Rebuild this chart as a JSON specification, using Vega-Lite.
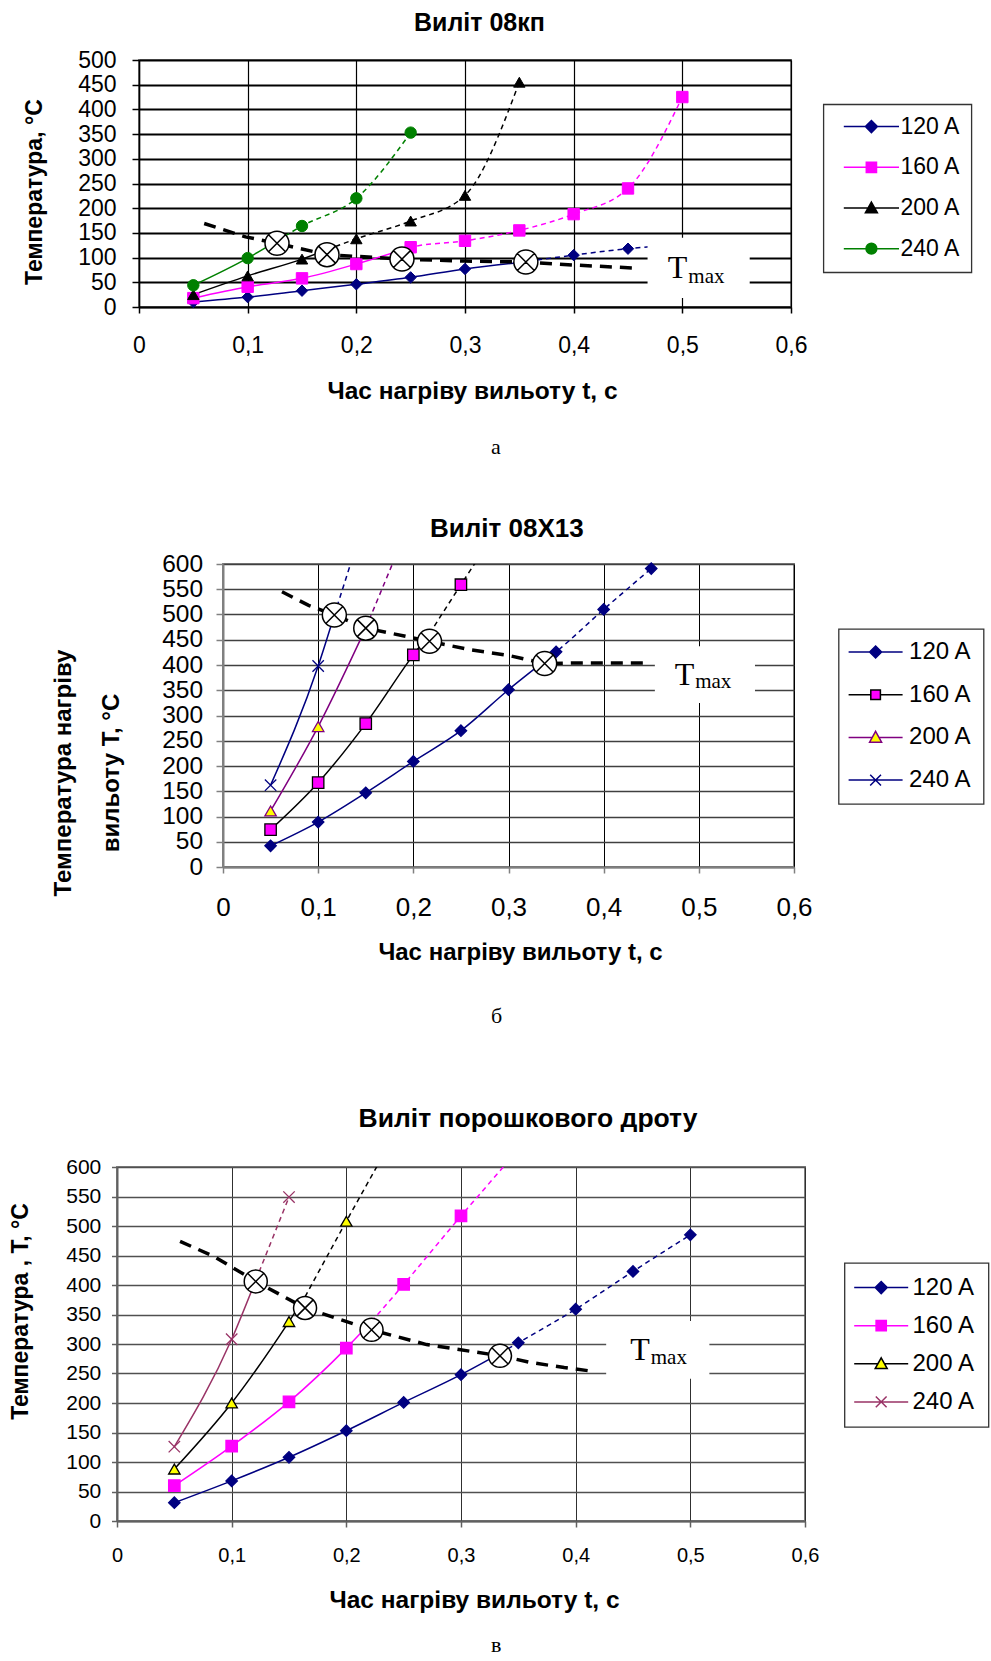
{
"$schema": "https://vega.github.io/schema/vega-lite/v6.json",
"padding": {"left": 0, "top": 10, "right": 0, "bottom": 0},
"config": {
  "font": "Liberation Sans",
  "view": {"stroke": "#808080", "strokeWidth": 2},
  "axis": {"labelColor": "black", "titleColor": "black", "labelFont": "Liberation Sans", "titleFont": "Liberation Sans", "titleFontWeight": "bold", "labelFlush": false, "labelOverlap": false, "gridOpacity": 1},
  "title": {"font": "Liberation Sans", "color": "black"},
  "legend": {"strokeWidth": 1.3, "labelFont": "Liberation Sans", "labelColor": "black"}
},
"datasets": {
"d": [
{"p":"a","k":"pt","s":"120 A","t":0.05,"T":10},{"p":"a","k":"pt","s":"120 A","t":0.1,"T":20},{"p":"a","k":"pt","s":"120 A","t":0.15,"T":33},{"p":"a","k":"pt","s":"120 A","t":0.2,"T":46},{"p":"a","k":"pt","s":"120 A","t":0.25,"T":60},{"p":"a","k":"pt","s":"120 A","t":0.3,"T":77},{"p":"a","k":"pt","s":"120 A","t":0.35,"T":90},{"p":"a","k":"pt","s":"120 A","t":0.4,"T":105},{"p":"a","k":"pt","s":"120 A","t":0.45,"T":118},
{"p":"a","k":"ln","g":"s","s":"120 A","t":0.05,"T":10},{"p":"a","k":"ln","g":"s","s":"120 A","t":0.1,"T":20},{"p":"a","k":"ln","g":"s","s":"120 A","t":0.15,"T":33},{"p":"a","k":"ln","g":"s","s":"120 A","t":0.2,"T":46},{"p":"a","k":"ln","g":"s","s":"120 A","t":0.25,"T":60},{"p":"a","k":"ln","g":"s","s":"120 A","t":0.3,"T":77},{"p":"a","k":"ln","g":"s","s":"120 A","t":0.35,"T":90},
{"p":"a","k":"ln","g":"d","s":"120 A","t":0.35,"T":90},{"p":"a","k":"ln","g":"d","s":"120 A","t":0.4,"T":105},{"p":"a","k":"ln","g":"d","s":"120 A","t":0.45,"T":118},{"p":"a","k":"ln","g":"d","s":"120 A","t":0.47,"T":122},
{"p":"a","k":"pt","s":"160 A","t":0.05,"T":18},{"p":"a","k":"pt","s":"160 A","t":0.1,"T":41},{"p":"a","k":"pt","s":"160 A","t":0.15,"T":58},{"p":"a","k":"pt","s":"160 A","t":0.2,"T":87},{"p":"a","k":"pt","s":"160 A","t":0.25,"T":121},{"p":"a","k":"pt","s":"160 A","t":0.3,"T":134},{"p":"a","k":"pt","s":"160 A","t":0.35,"T":155},{"p":"a","k":"pt","s":"160 A","t":0.4,"T":188},{"p":"a","k":"pt","s":"160 A","t":0.45,"T":240},{"p":"a","k":"pt","s":"160 A","t":0.5,"T":425},
{"p":"a","k":"ln","g":"s","s":"160 A","t":0.05,"T":18},{"p":"a","k":"ln","g":"s","s":"160 A","t":0.1,"T":41},{"p":"a","k":"ln","g":"s","s":"160 A","t":0.15,"T":58},{"p":"a","k":"ln","g":"s","s":"160 A","t":0.2,"T":87},{"p":"a","k":"ln","g":"s","s":"160 A","t":0.24,"T":114},
{"p":"a","k":"ln","g":"d","s":"160 A","t":0.24,"T":114},{"p":"a","k":"ln","g":"d","s":"160 A","t":0.25,"T":121},{"p":"a","k":"ln","g":"d","s":"160 A","t":0.3,"T":134},{"p":"a","k":"ln","g":"d","s":"160 A","t":0.35,"T":155},{"p":"a","k":"ln","g":"d","s":"160 A","t":0.4,"T":188},{"p":"a","k":"ln","g":"d","s":"160 A","t":0.45,"T":240},{"p":"a","k":"ln","g":"d","s":"160 A","t":0.5,"T":425},
{"p":"a","k":"pt","s":"200 A","t":0.05,"T":25},{"p":"a","k":"pt","s":"200 A","t":0.1,"T":63},{"p":"a","k":"pt","s":"200 A","t":0.15,"T":97},{"p":"a","k":"pt","s":"200 A","t":0.2,"T":138},{"p":"a","k":"pt","s":"200 A","t":0.25,"T":174},{"p":"a","k":"pt","s":"200 A","t":0.3,"T":226},{"p":"a","k":"pt","s":"200 A","t":0.35,"T":455},
{"p":"a","k":"ln","g":"s","s":"200 A","t":0.05,"T":25},{"p":"a","k":"ln","g":"s","s":"200 A","t":0.1,"T":63},{"p":"a","k":"ln","g":"s","s":"200 A","t":0.15,"T":97},{"p":"a","k":"ln","g":"s","s":"200 A","t":0.173,"T":116},
{"p":"a","k":"ln","g":"d","s":"200 A","t":0.173,"T":116},{"p":"a","k":"ln","g":"d","s":"200 A","t":0.2,"T":138},{"p":"a","k":"ln","g":"d","s":"200 A","t":0.25,"T":174},{"p":"a","k":"ln","g":"d","s":"200 A","t":0.3,"T":226},{"p":"a","k":"ln","g":"d","s":"200 A","t":0.35,"T":455},
{"p":"a","k":"pt","s":"240 A","t":0.05,"T":44},{"p":"a","k":"pt","s":"240 A","t":0.1,"T":99},{"p":"a","k":"pt","s":"240 A","t":0.15,"T":164},{"p":"a","k":"pt","s":"240 A","t":0.2,"T":220},{"p":"a","k":"pt","s":"240 A","t":0.25,"T":353},
{"p":"a","k":"ln","g":"s","s":"240 A","t":0.05,"T":44},{"p":"a","k":"ln","g":"s","s":"240 A","t":0.1,"T":99},{"p":"a","k":"ln","g":"s","s":"240 A","t":0.127,"T":134},
{"p":"a","k":"ln","g":"d","s":"240 A","t":0.127,"T":134},{"p":"a","k":"ln","g":"d","s":"240 A","t":0.15,"T":164},{"p":"a","k":"ln","g":"d","s":"240 A","t":0.2,"T":220},{"p":"a","k":"ln","g":"d","s":"240 A","t":0.25,"T":353},
{"p":"a","k":"tm","t":0.06,"T":169},{"p":"a","k":"tm","t":0.098,"T":142},{"p":"a","k":"tm","t":0.127,"T":129},{"p":"a","k":"tm","t":0.173,"T":106},{"p":"a","k":"tm","t":0.242,"T":97},{"p":"a","k":"tm","t":0.3,"T":93},{"p":"a","k":"tm","t":0.356,"T":91},{"p":"a","k":"tm","t":0.4,"T":85},{"p":"a","k":"tm","t":0.455,"T":79},
{"p":"a","k":"cx","t":0.127,"T":129},{"p":"a","k":"cx","t":0.173,"T":106},{"p":"a","k":"cx","t":0.242,"T":97},{"p":"a","k":"cx","t":0.356,"T":91},
{"p":"a","k":"box","t":0.468,"t2":0.562,"T":140,"T2":18},
{"p":"a","k":"lbl","txt":"T","t":0.4866,"T":57.8},{"p":"a","k":"lbl","txt":"max","t":0.5055,"T":48.7},

{"p":"b","k":"pt","s":"120 A","t":0.05,"T":42},{"p":"b","k":"pt","s":"120 A","t":0.1,"T":89},{"p":"b","k":"pt","s":"120 A","t":0.15,"T":147},{"p":"b","k":"pt","s":"120 A","t":0.2,"T":209},{"p":"b","k":"pt","s":"120 A","t":0.25,"T":270},{"p":"b","k":"pt","s":"120 A","t":0.3,"T":351},{"p":"b","k":"pt","s":"120 A","t":0.35,"T":426},{"p":"b","k":"pt","s":"120 A","t":0.4,"T":510},{"p":"b","k":"pt","s":"120 A","t":0.45,"T":591},
{"p":"b","k":"ln","g":"s","s":"120 A","t":0.05,"T":42},{"p":"b","k":"ln","g":"s","s":"120 A","t":0.1,"T":89},{"p":"b","k":"ln","g":"s","s":"120 A","t":0.15,"T":147},{"p":"b","k":"ln","g":"s","s":"120 A","t":0.2,"T":209},{"p":"b","k":"ln","g":"s","s":"120 A","t":0.25,"T":270},{"p":"b","k":"ln","g":"s","s":"120 A","t":0.3,"T":351},{"p":"b","k":"ln","g":"s","s":"120 A","t":0.338,"T":408},
{"p":"b","k":"ln","g":"d","s":"120 A","t":0.338,"T":408},{"p":"b","k":"ln","g":"d","s":"120 A","t":0.35,"T":426},{"p":"b","k":"ln","g":"d","s":"120 A","t":0.4,"T":510},{"p":"b","k":"ln","g":"d","s":"120 A","t":0.45,"T":591},
{"p":"b","k":"pt","s":"160 A","t":0.05,"T":74},{"p":"b","k":"pt","s":"160 A","t":0.1,"T":167},{"p":"b","k":"pt","s":"160 A","t":0.15,"T":284},{"p":"b","k":"pt","s":"160 A","t":0.2,"T":420},{"p":"b","k":"pt","s":"160 A","t":0.25,"T":559},
{"p":"b","k":"ln","g":"s","s":"160 A","t":0.05,"T":74},{"p":"b","k":"ln","g":"s","s":"160 A","t":0.1,"T":167},{"p":"b","k":"ln","g":"s","s":"160 A","t":0.15,"T":284},{"p":"b","k":"ln","g":"s","s":"160 A","t":0.2,"T":420},{"p":"b","k":"ln","g":"s","s":"160 A","t":0.217,"T":462},
{"p":"b","k":"ln","g":"d","s":"160 A","t":0.217,"T":462},{"p":"b","k":"ln","g":"d","s":"160 A","t":0.25,"T":559},{"p":"b","k":"ln","g":"d","s":"160 A","t":0.266,"T":605},
{"p":"b","k":"pt","s":"200 A","t":0.05,"T":111},{"p":"b","k":"pt","s":"200 A","t":0.1,"T":278},
{"p":"b","k":"ln","g":"s","s":"200 A","t":0.05,"T":111},{"p":"b","k":"ln","g":"s","s":"200 A","t":0.1,"T":278},{"p":"b","k":"ln","g":"s","s":"200 A","t":0.15,"T":473},
{"p":"b","k":"ln","g":"d","s":"200 A","t":0.15,"T":473},{"p":"b","k":"ln","g":"d","s":"200 A","t":0.178,"T":600},
{"p":"b","k":"pt","s":"240 A","t":0.05,"T":162},{"p":"b","k":"pt","s":"240 A","t":0.1,"T":398},
{"p":"b","k":"ln","g":"s","s":"240 A","t":0.05,"T":162},{"p":"b","k":"ln","g":"s","s":"240 A","t":0.1,"T":398},{"p":"b","k":"ln","g":"s","s":"240 A","t":0.117,"T":499},
{"p":"b","k":"ln","g":"d","s":"240 A","t":0.117,"T":499},{"p":"b","k":"ln","g":"d","s":"240 A","t":0.134,"T":600},
{"p":"b","k":"tm","t":0.062,"T":545},{"p":"b","k":"tm","t":0.09,"T":518},{"p":"b","k":"tm","t":0.117,"T":499},{"p":"b","k":"tm","t":0.15,"T":473},{"p":"b","k":"tm","t":0.217,"T":447},{"p":"b","k":"tm","t":0.26,"T":430},{"p":"b","k":"tm","t":0.3,"T":419},{"p":"b","k":"tm","t":0.338,"T":403},{"p":"b","k":"tm","t":0.37,"T":404},{"p":"b","k":"tm","t":0.447,"T":404},
{"p":"b","k":"cx","t":0.117,"T":499},{"p":"b","k":"cx","t":0.15,"T":473},{"p":"b","k":"cx","t":0.217,"T":447},{"p":"b","k":"cx","t":0.338,"T":403},
{"p":"b","k":"box","t":0.4538,"t2":0.559,"T":437,"T2":325},
{"p":"b","k":"lbl","txt":"T","t":0.4748,"T":361},{"p":"b","k":"lbl","txt":"max","t":0.4962,"T":354.5},

{"p":"c","k":"pt","s":"120 A","t":0.05,"T":31},{"p":"c","k":"pt","s":"120 A","t":0.1,"T":68},{"p":"c","k":"pt","s":"120 A","t":0.15,"T":108},{"p":"c","k":"pt","s":"120 A","t":0.2,"T":153},{"p":"c","k":"pt","s":"120 A","t":0.25,"T":201},{"p":"c","k":"pt","s":"120 A","t":0.3,"T":248},{"p":"c","k":"pt","s":"120 A","t":0.35,"T":302},{"p":"c","k":"pt","s":"120 A","t":0.4,"T":359},{"p":"c","k":"pt","s":"120 A","t":0.45,"T":423},{"p":"c","k":"pt","s":"120 A","t":0.5,"T":485},
{"p":"c","k":"ln","g":"s","s":"120 A","t":0.05,"T":31},{"p":"c","k":"ln","g":"s","s":"120 A","t":0.1,"T":68},{"p":"c","k":"ln","g":"s","s":"120 A","t":0.15,"T":108},{"p":"c","k":"ln","g":"s","s":"120 A","t":0.2,"T":153},{"p":"c","k":"ln","g":"s","s":"120 A","t":0.25,"T":201},{"p":"c","k":"ln","g":"s","s":"120 A","t":0.3,"T":248},{"p":"c","k":"ln","g":"s","s":"120 A","t":0.334,"T":284},
{"p":"c","k":"ln","g":"d","s":"120 A","t":0.334,"T":284},{"p":"c","k":"ln","g":"d","s":"120 A","t":0.35,"T":302},{"p":"c","k":"ln","g":"d","s":"120 A","t":0.4,"T":359},{"p":"c","k":"ln","g":"d","s":"120 A","t":0.45,"T":423},{"p":"c","k":"ln","g":"d","s":"120 A","t":0.5,"T":485},
{"p":"c","k":"pt","s":"160 A","t":0.05,"T":60},{"p":"c","k":"pt","s":"160 A","t":0.1,"T":127},{"p":"c","k":"pt","s":"160 A","t":0.15,"T":202},{"p":"c","k":"pt","s":"160 A","t":0.2,"T":293},{"p":"c","k":"pt","s":"160 A","t":0.25,"T":401},{"p":"c","k":"pt","s":"160 A","t":0.3,"T":517},
{"p":"c","k":"ln","g":"s","s":"160 A","t":0.05,"T":60},{"p":"c","k":"ln","g":"s","s":"160 A","t":0.1,"T":127},{"p":"c","k":"ln","g":"s","s":"160 A","t":0.15,"T":202},{"p":"c","k":"ln","g":"s","s":"160 A","t":0.2,"T":293},{"p":"c","k":"ln","g":"s","s":"160 A","t":0.222,"T":338},
{"p":"c","k":"ln","g":"d","s":"160 A","t":0.222,"T":338},{"p":"c","k":"ln","g":"d","s":"160 A","t":0.25,"T":401},{"p":"c","k":"ln","g":"d","s":"160 A","t":0.3,"T":517},{"p":"c","k":"ln","g":"d","s":"160 A","t":0.341,"T":609},
{"p":"c","k":"pt","s":"200 A","t":0.05,"T":88},{"p":"c","k":"pt","s":"200 A","t":0.1,"T":200},{"p":"c","k":"pt","s":"200 A","t":0.15,"T":338},{"p":"c","k":"pt","s":"200 A","t":0.2,"T":508},
{"p":"c","k":"ln","g":"s","s":"200 A","t":0.05,"T":88},{"p":"c","k":"ln","g":"s","s":"200 A","t":0.1,"T":200},{"p":"c","k":"ln","g":"s","s":"200 A","t":0.15,"T":338},{"p":"c","k":"ln","g":"s","s":"200 A","t":0.164,"T":380},
{"p":"c","k":"ln","g":"d","s":"200 A","t":0.164,"T":380},{"p":"c","k":"ln","g":"d","s":"200 A","t":0.2,"T":508},{"p":"c","k":"ln","g":"d","s":"200 A","t":0.227,"T":602},
{"p":"c","k":"pt","s":"240 A","t":0.05,"T":126},{"p":"c","k":"pt","s":"240 A","t":0.1,"T":308},{"p":"c","k":"pt","s":"240 A","t":0.15,"T":549},
{"p":"c","k":"ln","g":"s","s":"240 A","t":0.05,"T":126},{"p":"c","k":"ln","g":"s","s":"240 A","t":0.1,"T":308},{"p":"c","k":"ln","g":"s","s":"240 A","t":0.121,"T":408},
{"p":"c","k":"ln","g":"d","s":"240 A","t":0.121,"T":408},{"p":"c","k":"ln","g":"d","s":"240 A","t":0.15,"T":549},
{"p":"c","k":"tm","t":0.055,"T":474},{"p":"c","k":"tm","t":0.085,"T":448},{"p":"c","k":"tm","t":0.121,"T":406},{"p":"c","k":"tm","t":0.164,"T":361},{"p":"c","k":"tm","t":0.222,"T":324},{"p":"c","k":"tm","t":0.27,"T":299},{"p":"c","k":"tm","t":0.334,"T":280},{"p":"c","k":"tm","t":0.36,"T":269},{"p":"c","k":"tm","t":0.39,"T":260},{"p":"c","k":"tm","t":0.414,"T":254},
{"p":"c","k":"cx","t":0.121,"T":406},{"p":"c","k":"cx","t":0.164,"T":361},{"p":"c","k":"cx","t":0.222,"T":324},{"p":"c","k":"cx","t":0.334,"T":280},
{"p":"c","k":"box","t":0.4266,"t2":0.5166,"T":339,"T2":241},
{"p":"c","k":"lbl","txt":"T","t":0.4475,"T":272.9},{"p":"c","k":"lbl","txt":"max","t":0.4655,"T":266}
]
},
"vconcat": [
{
  "hconcat": [
    {"width": 21, "height": 1, "view": {"stroke": null}, "data": {"values": []}, "mark": {"type": "point", "opacity": 0}},
    {
      "width": 652, "height": 247,
      "title": {"text": "Виліт 08кп", "anchor": "start", "frame": "group", "dx": 275, "offset": 13, "fontSize": 25, "fontWeight": "bold"},
      "data": {"name": "d"},
      "transform": [{"filter": "datum.p == 'a'"}],
      "encoding": {
        "x": {"field": "t", "type": "quantitative", "scale": {"domain": [0, 0.6], "nice": false, "zero": false},
          "axis": {"values": [0, 0.1, 0.2, 0.3, 0.4, 0.5, 0.6], "labelExpr": "datum.value == 0 ? '0' : replace(format(datum.value, '.1f'), '.', ',')", "title": "Час нагріву вильоту  t, с", "titleFontSize": 24.5, "titleBaseline": "alphabetic", "titleX": 333, "titleY": 91, "labelFontSize": 23, "labelPadding": 21, "tickSize": 6, "tickWidth": 1.5, "tickColor": "black", "domainColor": "black", "domainWidth": 1.5, "grid": true, "gridColor": "black", "gridWidth": 1.2}},
        "y": {"field": "T", "type": "quantitative", "scale": {"domain": [0, 500], "nice": false},
          "axis": {"values": [0, 50, 100, 150, 200, 250, 300, 350, 400, 450, 500], "format": "d", "title": "Температура, °C", "titleFontSize": 23, "titleAngle": 270, "titleBaseline": "alphabetic", "titleAlign": "center", "titleX": -98, "titleY": 131.6, "labelFontSize": 23, "labelPadding": 16, "tickSize": 7, "tickWidth": 1.5, "tickColor": "black", "domainColor": "black", "domainWidth": 1.5, "grid": true, "gridColor": "black", "gridWidth": 2.2}}
      },
      "layer": [
        {"transform": [{"filter": "datum.k == 'ln' && datum.g == 's'"}], "mark": {"type": "line", "interpolate": "monotone", "strokeWidth": 1.5, "clip": true},
         "encoding": {"stroke": {"field": "s", "type": "nominal", "scale": {"domain": ["120 A", "160 A", "200 A", "240 A"], "range": ["#000080", "#FF00FF", "#000000", "#008000"]}, "legend": null}}},
        {"transform": [{"filter": "datum.k == 'ln' && datum.g == 'd'"}], "mark": {"type": "line", "interpolate": "monotone", "strokeWidth": 1.5, "strokeDash": [5, 4], "clip": true},
         "encoding": {"stroke": {"field": "s", "type": "nominal", "scale": {"domain": ["120 A", "160 A", "200 A", "240 A"], "range": ["#000080", "#FF00FF", "#000000", "#008000"]}, "legend": null}}},
        {"transform": [{"filter": "datum.k == 'pt'"}], "mark": {"type": "point", "filled": true, "opacity": 1, "size": 130, "strokeWidth": 1},
         "encoding": {
           "stroke": {"field": "s", "type": "nominal", "scale": {"domain": ["120 A", "160 A", "200 A", "240 A"], "range": ["#000080", "#FF00FF", "#000000", "#008000"]}, "legend": null},
           "fill": {"field": "s", "type": "nominal", "scale": {"domain": ["120 A", "160 A", "200 A", "240 A"], "range": ["#000080", "#FF00FF", "#000000", "#008000"]}, "legend": null},
           "shape": {"field": "s", "type": "nominal", "scale": {"domain": ["120 A", "160 A", "200 A", "240 A"], "range": ["diamond", "square", "triangle-up", "circle"]}, "legend": null}}},
        {"transform": [{"filter": "datum.k == 'tm'"}], "mark": {"type": "line", "color": "black", "strokeWidth": 3.5, "strokeDash": [12, 8]}, "encoding": {}},
        {"transform": [{"filter": "datum.k == 'cx'"}], "mark": {"type": "point", "shape": "M-1,0A1,1,0,1,1,1,0A1,1,0,1,1,-1,0ZM-0.7071,-0.7071L0.7071,0.7071M-0.7071,0.7071L0.7071,-0.7071", "size": 576, "filled": true, "fill": "white", "stroke": "black", "strokeWidth": 1.5, "opacity": 1}},
        {"transform": [{"filter": "datum.k == 'box'"}], "mark": {"type": "rect", "fill": "white"}, "encoding": {"x2": {"field": "t2"}, "y2": {"field": "T2"}}},
        {"transform": [{"filter": "datum.k == 'lbl' && datum.txt == 'T'"}], "mark": {"type": "text", "font": "Liberation Serif", "fontSize": 32, "align": "left", "baseline": "alphabetic", "color": "black"}, "encoding": {"text": {"field": "txt"}}},
        {"transform": [{"filter": "datum.k == 'lbl' && datum.txt == 'max'"}], "mark": {"type": "text", "font": "Liberation Serif", "fontSize": 21, "align": "left", "baseline": "alphabetic", "color": "black"}, "encoding": {"text": {"field": "txt"}}},
        {"transform": [{"filter": "false"}], "mark": {"type": "point", "filled": true, "opacity": 1, "size": 144, "strokeWidth": 1.5},
         "encoding": {
           "stroke": {"field": "s", "type": "nominal", "scale": {"domain": ["120 A", "160 A", "200 A", "240 A"], "range": ["#000080", "#FF00FF", "#000000", "#008000"]},
             "legend": {"title": null, "orient": "none", "legendX": 684.4, "legendY": 44.3, "direction": "vertical", "padding": 10.8, "labelFontSize": 23, "labelOffset": 17.5, "symbolOffset": 25.7, "rowPadding": 16.7, "symbolSize": 144, "symbolStrokeWidth": 1.5, "strokeColor": "#333333", "fillColor": "white", "labelLimit": 300}},
           "fill": {"field": "s", "type": "nominal", "scale": {"domain": ["120 A", "160 A", "200 A", "240 A"], "range": ["#000080", "#FF00FF", "#000000", "#008000"]},
             "legend": {"title": null, "orient": "none", "legendX": 684.4, "legendY": 44.3, "direction": "vertical", "padding": 10.8, "labelFontSize": 23, "labelOffset": 17.5, "symbolOffset": 25.7, "rowPadding": 16.7, "symbolSize": 144, "symbolStrokeWidth": 1.5, "strokeColor": "#333333", "fillColor": "white", "labelLimit": 300}},
           "shape": {"field": "s", "type": "nominal", "scale": {"domain": ["120 A", "160 A", "200 A", "240 A"], "range": ["M-4.6,0H-1M1,0H4.6M0,-1L1,0L0,1L-1,0Z", "M-4.6,0H-0.85M0.85,0H4.6M-0.85,-0.85H0.85V0.85H-0.85Z", "M-4.6,0H-0.55M0.55,0H4.6M0,-1L1,0.8L-1,0.8Z", "M-4.6,0H-0.9M0.9,0H4.6M-0.9,0A0.9,0.9,0,1,1,0.9,0A0.9,0.9,0,1,1,-0.9,0Z"]},
             "legend": {"title": null, "orient": "none", "legendX": 684.4, "legendY": 44.3, "direction": "vertical", "padding": 10.8, "labelFontSize": 23, "labelOffset": 17.5, "symbolOffset": 25.7, "rowPadding": 16.7, "symbolSize": 144, "symbolStrokeWidth": 1.5, "strokeColor": "#333333", "fillColor": "white", "labelLimit": 300}}}}
      ],
      "resolve": {"scale": {"stroke": "independent", "fill": "independent", "shape": "independent"}}
    }
  ],
  "spacing": 0,
  "title": {"text": "а", "orient": "bottom", "anchor": "start", "frame": "bounds", "dx": 491, "offset": 33, "font": "Liberation Serif", "fontSize": 22, "fontWeight": "normal"}
},
{"width": 1, "height": 56, "view": {"stroke": null}, "data": {"values": []}, "mark": {"type": "point", "opacity": 0}},
{
  "hconcat": [
    {"width": 50, "height": 1, "view": {"stroke": null}, "data": {"values": []}, "mark": {"type": "point", "opacity": 0}},
    {
      "width": 571, "height": 303,
      "title": {"text": "Виліт 08Х13", "anchor": "start", "frame": "group", "dx": 207, "offset": 9.5, "fontSize": 26, "fontWeight": "bold"},
      "data": {"name": "d"},
      "transform": [{"filter": "datum.p == 'b'"}],
      "encoding": {
        "x": {"field": "t", "type": "quantitative", "scale": {"domain": [0, 0.6], "nice": false, "zero": false},
          "axis": {"values": [0, 0.1, 0.2, 0.3, 0.4, 0.5, 0.6], "labelExpr": "datum.value == 0 ? '0' : replace(format(datum.value, '.1f'), '.', ',')", "title": "Час нагріву вильоту t, с", "titleFontSize": 24, "titleBaseline": "alphabetic", "titleX": 297, "titleY": 92, "labelFontSize": 26, "labelPadding": 21, "tickSize": 6, "tickWidth": 1.5, "tickColor": "#808080", "domainColor": "#808080", "domainWidth": 2, "grid": true, "gridColor": "black", "gridWidth": 1}},
        "y": {"field": "T", "type": "quantitative", "scale": {"domain": [0, 600], "nice": false},
          "axis": {"values": [0, 50, 100, 150, 200, 250, 300, 350, 400, 450, 500, 550, 600], "format": "d", "title": ["Температура нагріву", "вильоту Т, °С"], "titleFontSize": 24, "titleLineHeight": 48.5, "titleAngle": 270, "titleBaseline": "alphabetic", "titleAlign": "center", "titleX": -152.9, "titleY": 208.5, "labelFontSize": 24.5, "labelPadding": 13.4, "tickSize": 7, "tickWidth": 1.5, "tickColor": "#808080", "domainColor": "#808080", "domainWidth": 2, "grid": true, "gridColor": "#404040", "gridWidth": 1.3}}
      },
      "layer": [
        {"transform": [{"filter": "datum.k == 'ln' && datum.g == 's'"}], "mark": {"type": "line", "interpolate": "monotone", "strokeWidth": 1.5, "clip": true},
         "encoding": {"stroke": {"field": "s", "type": "nominal", "scale": {"domain": ["120 A", "160 A", "200 A", "240 A"], "range": ["#000080", "#000000", "#800080", "#000080"]}, "legend": null}}},
        {"transform": [{"filter": "datum.k == 'ln' && datum.g == 'd'"}], "mark": {"type": "line", "interpolate": "monotone", "strokeWidth": 1.5, "strokeDash": [5, 4], "clip": true},
         "encoding": {"stroke": {"field": "s", "type": "nominal", "scale": {"domain": ["120 A", "160 A", "200 A", "240 A"], "range": ["#000080", "#000000", "#800080", "#000080"]}, "legend": null}}},
        {"transform": [{"filter": "datum.k == 'pt'"}], "mark": {"type": "point", "filled": true, "opacity": 1, "size": 130, "strokeWidth": 1.3},
         "encoding": {
           "stroke": {"field": "s", "type": "nominal", "scale": {"domain": ["120 A", "160 A", "200 A", "240 A"], "range": ["#000080", "#000000", "#800080", "#000080"]}, "legend": null},
           "fill": {"field": "s", "type": "nominal", "scale": {"domain": ["120 A", "160 A", "200 A", "240 A"], "range": ["#000080", "#FF00FF", "#FFFF00", "#000080"]}, "legend": null},
           "shape": {"field": "s", "type": "nominal", "scale": {"domain": ["120 A", "160 A", "200 A", "240 A"], "range": ["diamond", "square", "triangle-up", "M-1,-1L1,1M-1,1L1,-1"]}, "legend": null}}},
        {"transform": [{"filter": "datum.k == 'tm'"}], "mark": {"type": "line", "color": "black", "strokeWidth": 3.5, "strokeDash": [12, 8]}, "encoding": {}},
        {"transform": [{"filter": "datum.k == 'cx'"}], "mark": {"type": "point", "shape": "M-1,0A1,1,0,1,1,1,0A1,1,0,1,1,-1,0ZM-0.7071,-0.7071L0.7071,0.7071M-0.7071,0.7071L0.7071,-0.7071", "size": 576, "filled": true, "fill": "white", "stroke": "black", "strokeWidth": 1.5, "opacity": 1}},
        {"transform": [{"filter": "datum.k == 'box'"}], "mark": {"type": "rect", "fill": "white"}, "encoding": {"x2": {"field": "t2"}, "y2": {"field": "T2"}}},
        {"transform": [{"filter": "datum.k == 'lbl' && datum.txt == 'T'"}], "mark": {"type": "text", "font": "Liberation Serif", "fontSize": 32, "align": "left", "baseline": "alphabetic", "color": "black"}, "encoding": {"text": {"field": "txt"}}},
        {"transform": [{"filter": "datum.k == 'lbl' && datum.txt == 'max'"}], "mark": {"type": "text", "font": "Liberation Serif", "fontSize": 21, "align": "left", "baseline": "alphabetic", "color": "black"}, "encoding": {"text": {"field": "txt"}}},
        {"transform": [{"filter": "false"}], "mark": {"type": "point", "filled": true, "opacity": 1, "size": 144, "strokeWidth": 1.5},
         "encoding": {
           "stroke": {"field": "s", "type": "nominal", "scale": {"domain": ["120 A", "160 A", "200 A", "240 A"], "range": ["#000080", "#000000", "#800080", "#000080"]},
             "legend": {"title": null, "orient": "none", "legendX": 615.6, "legendY": 65, "direction": "vertical", "padding": 11, "labelFontSize": 24, "labelOffset": 21.5, "symbolOffset": 14, "rowPadding": 18.7, "symbolSize": 144, "symbolStrokeWidth": 1.5, "strokeColor": "#333333", "fillColor": "white", "labelLimit": 300}},
           "fill": {"field": "s", "type": "nominal", "scale": {"domain": ["120 A", "160 A", "200 A", "240 A"], "range": ["#000080", "#FF00FF", "#FFFF00", "#000080"]},
             "legend": {"title": null, "orient": "none", "legendX": 615.6, "legendY": 65, "direction": "vertical", "padding": 11, "labelFontSize": 24, "labelOffset": 21.5, "symbolOffset": 14, "rowPadding": 18.7, "symbolSize": 144, "symbolStrokeWidth": 1.5, "strokeColor": "#333333", "fillColor": "white", "labelLimit": 300}},
           "shape": {"field": "s", "type": "nominal", "scale": {"domain": ["120 A", "160 A", "200 A", "240 A"], "range": ["M-4.5,0H-1M1,0H4.5M0,-1L1,0L0,1L-1,0Z", "M-4.5,0H-0.8M0.8,0H4.5M-0.8,-0.8H0.8V0.8H-0.8Z", "M-4.5,0H-0.55M0.55,0H4.5M0,-1L1,0.8L-1,0.8Z", "M-4.5,0H4.5M-0.9,-0.9L0.9,0.9M-0.9,0.9L0.9,-0.9"]},
             "legend": {"title": null, "orient": "none", "legendX": 615.6, "legendY": 65, "direction": "vertical", "padding": 11, "labelFontSize": 24, "labelOffset": 21.5, "symbolOffset": 14, "rowPadding": 18.7, "symbolSize": 144, "symbolStrokeWidth": 1.5, "strokeColor": "#333333", "fillColor": "white", "labelLimit": 300}}}}
      ],
      "resolve": {"scale": {"stroke": "independent", "fill": "independent", "shape": "independent"}}
    }
  ],
  "spacing": 0,
  "title": {"text": "б", "orient": "bottom", "anchor": "start", "frame": "bounds", "dx": 491, "offset": 41, "font": "Liberation Serif", "fontSize": 22, "fontWeight": "normal"}
},
{"width": 1, "height": 77, "view": {"stroke": null}, "data": {"values": []}, "mark": {"type": "point", "opacity": 0}},
{
  "hconcat": [
    {"width": 8, "height": 1, "view": {"stroke": null}, "data": {"values": []}, "mark": {"type": "point", "opacity": 0}},
    {
      "width": 688, "height": 354,
      "title": {"text": "Виліт порошкового дроту", "anchor": "start", "frame": "group", "dx": 241.5, "offset": 24, "fontSize": 26.5, "fontWeight": "bold"},
      "data": {"name": "d"},
      "transform": [{"filter": "datum.p == 'c'"}],
      "encoding": {
        "x": {"field": "t", "type": "quantitative", "scale": {"domain": [0, 0.6], "nice": false, "zero": false},
          "axis": {"values": [0, 0.1, 0.2, 0.3, 0.4, 0.5, 0.6], "labelExpr": "datum.value == 0 ? '0' : replace(format(datum.value, '.1f'), '.', ',')", "title": "Час нагріву вильоту  t, с", "titleFontSize": 24.5, "titleBaseline": "alphabetic", "titleX": 357, "titleY": 86, "labelFontSize": 20, "labelPadding": 18, "tickSize": 6, "tickWidth": 1.5, "tickColor": "#606060", "domainColor": "#606060", "domainWidth": 2, "grid": true, "gridColor": "#303030", "gridWidth": 1}},
        "y": {"field": "T", "type": "quantitative", "scale": {"domain": [0, 600], "nice": false},
          "axis": {"values": [0, 50, 100, 150, 200, 250, 300, 350, 400, 450, 500, 550, 600], "format": "d", "title": "Температура , Т, °С", "titleFontSize": 23, "titleAngle": 270, "titleBaseline": "alphabetic", "titleAlign": "center", "titleX": -90, "titleY": 144, "labelFontSize": 21, "labelPadding": 10.7, "tickSize": 5.5, "tickWidth": 1.5, "tickColor": "#606060", "domainColor": "#606060", "domainWidth": 2, "grid": true, "gridColor": "#505050", "gridWidth": 1.3}}
      },
      "layer": [
        {"transform": [{"filter": "datum.k == 'ln' && datum.g == 's'"}], "mark": {"type": "line", "interpolate": "monotone", "strokeWidth": 1.5, "clip": true},
         "encoding": {"stroke": {"field": "s", "type": "nominal", "scale": {"domain": ["120 A", "160 A", "200 A", "240 A"], "range": ["#000080", "#FF00FF", "#000000", "#993366"]}, "legend": null}}},
        {"transform": [{"filter": "datum.k == 'ln' && datum.g == 'd'"}], "mark": {"type": "line", "interpolate": "monotone", "strokeWidth": 1.5, "strokeDash": [5, 4], "clip": true},
         "encoding": {"stroke": {"field": "s", "type": "nominal", "scale": {"domain": ["120 A", "160 A", "200 A", "240 A"], "range": ["#000080", "#FF00FF", "#000000", "#993366"]}, "legend": null}}},
        {"transform": [{"filter": "datum.k == 'pt'"}], "mark": {"type": "point", "filled": true, "opacity": 1, "size": 130, "strokeWidth": 1.3},
         "encoding": {
           "stroke": {"field": "s", "type": "nominal", "scale": {"domain": ["120 A", "160 A", "200 A", "240 A"], "range": ["#000080", "#FF00FF", "#000000", "#993366"]}, "legend": null},
           "fill": {"field": "s", "type": "nominal", "scale": {"domain": ["120 A", "160 A", "200 A", "240 A"], "range": ["#000080", "#FF00FF", "#FFFF00", "#993366"]}, "legend": null},
           "shape": {"field": "s", "type": "nominal", "scale": {"domain": ["120 A", "160 A", "200 A", "240 A"], "range": ["diamond", "square", "triangle-up", "M-1,-1L1,1M-1,1L1,-1"]}, "legend": null}}},
        {"transform": [{"filter": "datum.k == 'tm'"}], "mark": {"type": "line", "color": "black", "strokeWidth": 3.5, "strokeDash": [12, 8]}, "encoding": {}},
        {"transform": [{"filter": "datum.k == 'cx'"}], "mark": {"type": "point", "shape": "M-1,0A1,1,0,1,1,1,0A1,1,0,1,1,-1,0ZM-0.7071,-0.7071L0.7071,0.7071M-0.7071,0.7071L0.7071,-0.7071", "size": 529, "filled": true, "fill": "white", "stroke": "black", "strokeWidth": 1.5, "opacity": 1}},
        {"transform": [{"filter": "datum.k == 'box'"}], "mark": {"type": "rect", "fill": "white"}, "encoding": {"x2": {"field": "t2"}, "y2": {"field": "T2"}}},
        {"transform": [{"filter": "datum.k == 'lbl' && datum.txt == 'T'"}], "mark": {"type": "text", "font": "Liberation Serif", "fontSize": 32, "align": "left", "baseline": "alphabetic", "color": "black"}, "encoding": {"text": {"field": "txt"}}},
        {"transform": [{"filter": "datum.k == 'lbl' && datum.txt == 'max'"}], "mark": {"type": "text", "font": "Liberation Serif", "fontSize": 21, "align": "left", "baseline": "alphabetic", "color": "black"}, "encoding": {"text": {"field": "txt"}}},
        {"transform": [{"filter": "false"}], "mark": {"type": "point", "filled": true, "opacity": 1, "size": 144, "strokeWidth": 1.5},
         "encoding": {
           "stroke": {"field": "s", "type": "nominal", "scale": {"domain": ["120 A", "160 A", "200 A", "240 A"], "range": ["#000080", "#FF00FF", "#000000", "#993366"]},
             "legend": {"title": null, "orient": "none", "legendX": 727.5, "legendY": 96, "direction": "vertical", "padding": 12.6, "labelFontSize": 24, "labelOffset": 19.3, "symbolOffset": 12.1, "rowPadding": 14.1, "symbolSize": 144, "symbolStrokeWidth": 1.5, "strokeColor": "#333333", "fillColor": "white", "labelLimit": 300}},
           "fill": {"field": "s", "type": "nominal", "scale": {"domain": ["120 A", "160 A", "200 A", "240 A"], "range": ["#000080", "#FF00FF", "#FFFF00", "#993366"]},
             "legend": {"title": null, "orient": "none", "legendX": 727.5, "legendY": 96, "direction": "vertical", "padding": 12.6, "labelFontSize": 24, "labelOffset": 19.3, "symbolOffset": 12.1, "rowPadding": 14.1, "symbolSize": 144, "symbolStrokeWidth": 1.5, "strokeColor": "#333333", "fillColor": "white", "labelLimit": 300}},
           "shape": {"field": "s", "type": "nominal", "scale": {"domain": ["120 A", "160 A", "200 A", "240 A"], "range": ["M-4.5,0H-1M1,0H4.5M0,-1L1,0L0,1L-1,0Z", "M-4.5,0H-0.85M0.85,0H4.5M-0.85,-0.85H0.85V0.85H-0.85Z", "M-4.5,0H-0.55M0.55,0H4.5M0,-1L1,0.8L-1,0.8Z", "M-4.5,0H4.5M-0.9,-0.9L0.9,0.9M-0.9,0.9L0.9,-0.9"]},
             "legend": {"title": null, "orient": "none", "legendX": 727.5, "legendY": 96, "direction": "vertical", "padding": 12.6, "labelFontSize": 24, "labelOffset": 19.3, "symbolOffset": 12.1, "rowPadding": 14.1, "symbolSize": 144, "symbolStrokeWidth": 1.5, "strokeColor": "#333333", "fillColor": "white", "labelLimit": 300}}}}
      ],
      "resolve": {"scale": {"stroke": "independent", "fill": "independent", "shape": "independent"}}
    }
  ],
  "spacing": 0,
  "title": {"text": "в", "orient": "bottom", "anchor": "start", "frame": "bounds", "dx": 491, "offset": 22, "font": "Liberation Serif", "fontSize": 22, "fontWeight": "normal"}
}
],
"spacing": 0
}
